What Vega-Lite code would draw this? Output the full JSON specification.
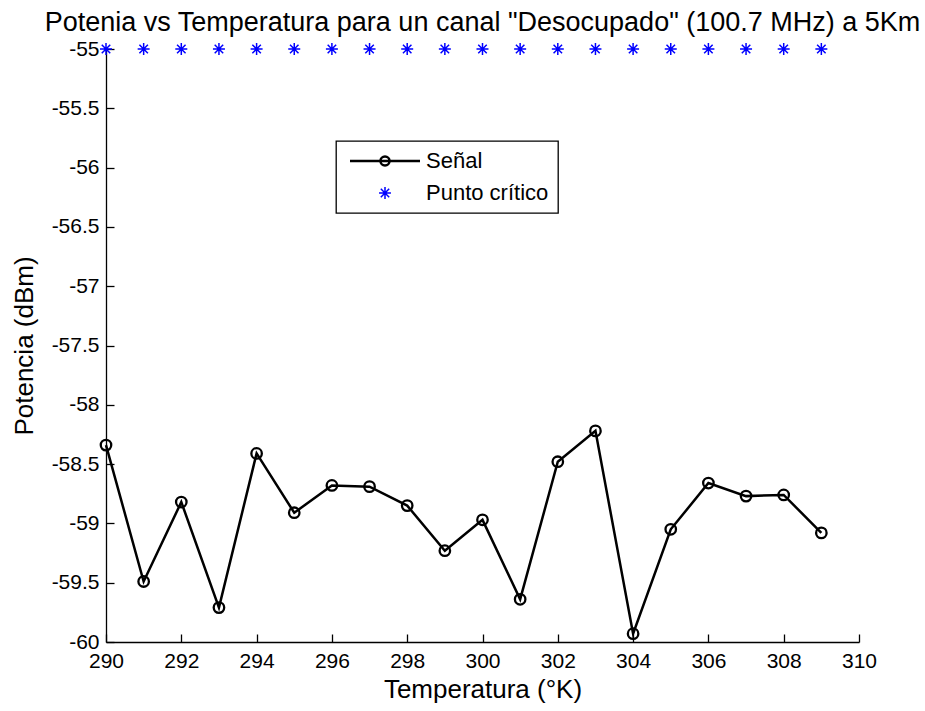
{
  "$schema": "https://vega.github.io/schema/vega-lite/v6.json",
  "width": 753,
  "height": 593,
  "autosize": "none",
  "padding": {"left": 106, "top": 49, "right": 66, "bottom": 69},
  "background": "white",
  "config": {
    "view": {"stroke": null},
    "font": "Liberation Sans",
    "axis": {
      "domainColor": "#000000",
      "domainWidth": 1.3,
      "tickColor": "#000000",
      "tickWidth": 1.3,
      "tickSize": -8,
      "labelColor": "#000000",
      "titleColor": "#000000",
      "labelFont": "Liberation Sans",
      "titleFont": "Liberation Sans",
      "labelFontSize": 21,
      "titleFontSize": 26,
      "titleFontWeight": "normal",
      "grid": false,
      "labelFlush": false,
      "labelOverlap": false
    }
  },
  "title": {
    "text": "Potenia vs Temperatura para un canal \"Desocupado\" (100.7 MHz) a 5Km",
    "font": "Liberation Sans",
    "fontSize": 27,
    "fontWeight": "normal",
    "color": "#000000",
    "anchor": "middle",
    "baseline": "alphabetic",
    "offset": 7,
    "dy": 27
  },
  "data": {
    "values": [
      {"T": 290, "P": -58.34, "serie": "Señal"},
      {"T": 291, "P": -59.49, "serie": "Señal"},
      {"T": 292, "P": -58.82, "serie": "Señal"},
      {"T": 293, "P": -59.71, "serie": "Señal"},
      {"T": 294, "P": -58.41, "serie": "Señal"},
      {"T": 295, "P": -58.91, "serie": "Señal"},
      {"T": 296, "P": -58.68, "serie": "Señal"},
      {"T": 297, "P": -58.69, "serie": "Señal"},
      {"T": 298, "P": -58.85, "serie": "Señal"},
      {"T": 299, "P": -59.23, "serie": "Señal"},
      {"T": 300, "P": -58.97, "serie": "Señal"},
      {"T": 301, "P": -59.64, "serie": "Señal"},
      {"T": 302, "P": -58.48, "serie": "Señal"},
      {"T": 303, "P": -58.22, "serie": "Señal"},
      {"T": 304, "P": -59.93, "serie": "Señal"},
      {"T": 305, "P": -59.05, "serie": "Señal"},
      {"T": 306, "P": -58.66, "serie": "Señal"},
      {"T": 307, "P": -58.77, "serie": "Señal"},
      {"T": 308, "P": -58.76, "serie": "Señal"},
      {"T": 309, "P": -59.08, "serie": "Señal"},
      {"T": 290, "P": -55, "serie": "Punto crítico"},
      {"T": 291, "P": -55, "serie": "Punto crítico"},
      {"T": 292, "P": -55, "serie": "Punto crítico"},
      {"T": 293, "P": -55, "serie": "Punto crítico"},
      {"T": 294, "P": -55, "serie": "Punto crítico"},
      {"T": 295, "P": -55, "serie": "Punto crítico"},
      {"T": 296, "P": -55, "serie": "Punto crítico"},
      {"T": 297, "P": -55, "serie": "Punto crítico"},
      {"T": 298, "P": -55, "serie": "Punto crítico"},
      {"T": 299, "P": -55, "serie": "Punto crítico"},
      {"T": 300, "P": -55, "serie": "Punto crítico"},
      {"T": 301, "P": -55, "serie": "Punto crítico"},
      {"T": 302, "P": -55, "serie": "Punto crítico"},
      {"T": 303, "P": -55, "serie": "Punto crítico"},
      {"T": 304, "P": -55, "serie": "Punto crítico"},
      {"T": 305, "P": -55, "serie": "Punto crítico"},
      {"T": 306, "P": -55, "serie": "Punto crítico"},
      {"T": 307, "P": -55, "serie": "Punto crítico"},
      {"T": 308, "P": -55, "serie": "Punto crítico"},
      {"T": 309, "P": -55, "serie": "Punto crítico"}
    ]
  },
  "encoding": {
    "x": {
      "field": "T",
      "type": "quantitative",
      "scale": {"domain": [290, 310], "nice": false, "zero": false},
      "axis": {
        "title": "Temperatura (°K)",
        "values": [290, 292, 294, 296, 298, 300, 302, 304, 306, 308, 310],
        "labelPadding": 16,
        "titlePadding": 5
      }
    },
    "y": {
      "field": "P",
      "type": "quantitative",
      "scale": {"domain": [-60, -55], "nice": false, "zero": false},
      "axis": {
        "title": "Potencia (dBm)",
        "values": [-60, -59.5, -59, -58.5, -58, -57.5, -57, -56.5, -56, -55.5, -55],
        "labelExpr": "'' + datum.value",
        "labelPadding": 15,
        "titlePadding": 14
      }
    },
    "color": {
      "field": "serie",
      "type": "nominal",
      "scale": {"domain": ["Señal", "Punto crítico"], "range": ["#000000", "#0000ff"]},
      "legend": {
        "title": null,
        "orient": "none",
        "legendX": 230,
        "legendY": 92,
        "symbolSize": 4900,
        "labelOffset": 59,
        "padding": 9,
        "rowPadding": 10,
        "labelFontSize": 22,
        "labelFont": "Liberation Sans",
        "labelColor": "#000000",
        "labelLimit": 0,
        "strokeColor": "#000000",
        "fillColor": "#ffffff",
        "cornerRadius": 0,
        "encode": {
          "legend": {"update": {"strokeWidth": {"value": 1.3}}},
          "symbols": {
            "update": {
              "x": {"value": 40},
              "shape": {"signal": "datum.value === 'Señal' ? 'M-1,0L1,0M-0.13,0A0.13,0.13 0 1,1 0.13,0A0.13,0.13 0 1,1 -0.13,0' : 'M0,-0.17L0,0.17M-0.17,0L0.17,0M-0.12,-0.12L0.12,0.12M-0.12,0.12L0.12,-0.12'"},
              "strokeWidth": {"signal": "datum.value === 'Señal' ? 2.5 : 1.5"},
              "fill": {"value": "transparent"},
              "opacity": {"value": 1}
            }
          }
        }
      }
    }
  },
  "layer": [
    {
      "transform": [{"filter": "datum.serie === 'Señal'"}],
      "mark": {"type": "line", "strokeWidth": 2.5}
    },
    {
      "transform": [{"filter": "datum.serie === 'Señal'"}],
      "mark": {"type": "point", "shape": "circle", "filled": false, "size": 110, "strokeWidth": 2.3, "opacity": 1}
    },
    {
      "transform": [{"filter": "datum.serie === 'Punto crítico'"}],
      "mark": {"type": "point", "shape": "M0,-1.2L0,1.2M-1.2,0L1.2,0M-0.85,-0.85L0.85,0.85M-0.85,0.85L0.85,-0.85", "filled": false, "size": 100, "strokeWidth": 1.5, "opacity": 1}
    }
  ]
}
